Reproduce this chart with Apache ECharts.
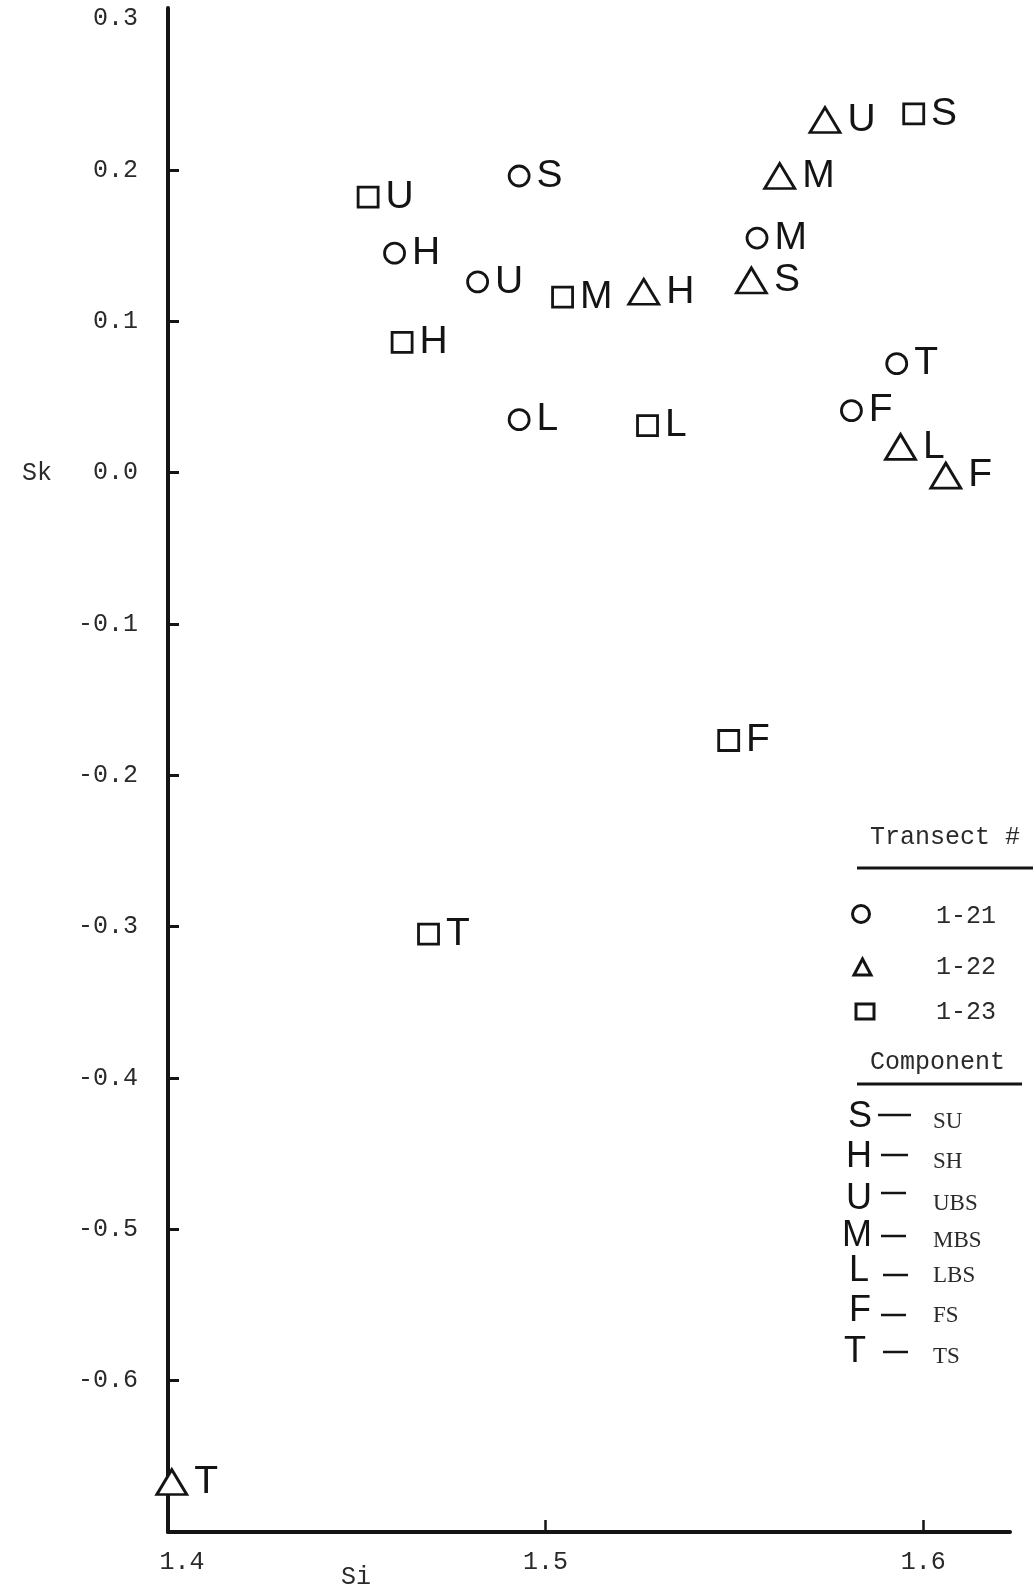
<!DOCTYPE html>
<html>
<head>
<meta charset="utf-8">
<script src="https://cdn.jsdelivr.net/npm/echarts@6/dist/echarts.min.js"></script>
<style>
  html, body { margin: 0; padding: 0; background: #fff; }
  #chart { width: 1036px; height: 1591px; }
</style>
</head>
<body>
<div id="chart"></div>
<script>
// Beach components and their abbreviations
const componentCodes = ['S', 'H', 'U', 'M', 'L', 'F', 'T'];
const componentNames = ['SU', 'SH', 'UBS', 'MBS', 'LBS', 'FS', 'TS'];
const transectNames = ['1-21', '1-22', '1-23'];

// Sorting (Si) and skewness (Sk), listed in componentCodes order
const si121 = [1.493, 1.460, 1.482, 1.556, 1.493, 1.581, 1.593];
const sk121 = [0.196, 0.145, 0.126, 0.155, 0.035, 0.041, 0.072];

const si122 = [1.5545, 1.526, 1.574, 1.562, 1.594, 1.606, 1.401];
const sk122 = [0.127, 0.1195, 0.233, 0.196, 0.017, -0.002, -0.667];

const si123 = [1.5975, 1.462, 1.453, 1.5045, 1.527, 1.5485, 1.469];
const sk123 = [0.237, 0.086, 0.182, 0.116, 0.031, -0.177, -0.305];

// Axis ticks and labels
const xTickLabels = [1.4, 1.5, 1.6];
const xTickMarks = [1.5, 1.6];
const yTickLabels = [-0.6, -0.5, -0.4, -0.3, -0.2, -0.1, 0.0, 0.1, 0.2, 0.3];
const yTickMarks = [-0.6, -0.5, -0.4, -0.3, -0.2, -0.1, 0.0, 0.1, 0.2];

const INK = '#141414';
const TYPE_FONT = 'Liberation Mono';
const LETTER_FONT = 'Liberation Sans';

function points(si, sk) {
  return componentCodes.map((c, i) => [si[i], sk[i], c]);
}

function scatter(name, si, sk, symbol, size) {
  return {
    name: name,
    type: 'scatter',
    symbol: symbol,
    symbolSize: size,
    data: points(si, sk),
    itemStyle: { color: '#fff', borderColor: INK, borderWidth: 2.8, opacity: 1 },
    label: {
      show: true,
      position: 'right',
      distance: 6,
      formatter: p => p.data[2],
      color: INK,
      fontFamily: LETTER_FONT,
      fontSize: 39
    },
    emphasis: { disabled: true },
    z: 3
  };
}

const chart = echarts.init(document.getElementById('chart'), null, { renderer: 'canvas' });

const typeLabel = { fontFamily: TYPE_FONT, fontSize: 25, color: '#2a2a2a' };

chart.setOption({
  animation: false,
  backgroundColor: '#ffffff',
  grid: { left: 168, right: 26, top: 8, bottom: 59, outerBoundsMode: 'none' },
  xAxis: {
    type: 'value',
    min: 1.4,
    max: 1.623,
    axisLine: { show: true, onZero: false, lineStyle: { color: INK, width: 4 } },
    axisTick: { show: true, inside: true, length: 12, customValues: xTickMarks,
                lineStyle: { color: INK, width: 2.5 } },
    axisLabel: {
      customValues: xTickLabels,
      margin: 18,
      formatter: v => Math.abs(v - 1.4) < 1e-9 ? '{first|1.4}' : v.toFixed(1),
      rich: { first: Object.assign({ padding: [0, 0, 0, 28] }, typeLabel) },
      ...typeLabel
    },
    splitLine: { show: false }
  },
  yAxis: {
    type: 'value',
    min: -0.7,
    max: 0.307,
    axisLine: { show: true, onZero: false, lineStyle: { color: INK, width: 4 } },
    axisTick: { show: true, inside: true, length: 11, customValues: yTickMarks,
                lineStyle: { color: INK, width: 3 } },
    axisLabel: {
      customValues: yTickLabels,
      margin: 30,
      formatter: v => v.toFixed(1),
      ...typeLabel
    },
    splitLine: { show: false }
  },
  series: [
    scatter(transectNames[0], si121, sk121, 'circle', 20),
    scatter(transectNames[1], si122, sk122, 'triangle', [30, 25]),
    scatter(transectNames[2], si123, sk123, 'rect', 20)
  ]
});

// Axis titles and the key on the right
const skY = chart.convertToPixel({ yAxisIndex: 0 }, 0);
const graphics = [];

function txt(x, y, text, font, fill) {
  graphics.push({
    type: 'text', x: x, y: y, silent: true,
    style: { text: text, font: font, fill: fill || INK, align: 'left', verticalAlign: 'middle' }
  });
}
function line(x1, y1, x2, y2, w) {
  graphics.push({ type: 'line', silent: true, shape: { x1, y1, x2, y2 },
                  style: { stroke: INK, lineWidth: w } });
}

const keyTypeFont = '25px "' + TYPE_FONT + '"';
txt(22, skY + 1, 'Sk', keyTypeFont, '#2a2a2a');
txt(341, 1577, 'Si', keyTypeFont, '#2a2a2a');

txt(870, 837, 'Transect #', keyTypeFont, '#2a2a2a');
line(857, 868, 1033, 868, 3);

// transect symbols
graphics.push({ type: 'circle', silent: true, shape: { cx: 861, cy: 914, r: 8.5 },
                style: { fill: '#fff', stroke: INK, lineWidth: 3 } });
graphics.push({ type: 'polygon', silent: true,
                shape: { points: [[854, 975], [871, 975], [862.5, 959]] },
                style: { fill: '#fff', stroke: INK, lineWidth: 3 } });
graphics.push({ type: 'rect', silent: true, shape: { x: 856, y: 1004, width: 18, height: 15 },
                style: { fill: '#fff', stroke: INK, lineWidth: 3 } });
const keyRowY = [916, 967, 1012];
transectNames.forEach((t, i) => txt(936, keyRowY[i], t, keyTypeFont, '#2a2a2a'));

txt(870, 1062, 'Component', keyTypeFont, '#2a2a2a');
line(857, 1084, 1022, 1084, 3);

const compLetterY = [1117, 1157, 1199, 1236, 1271, 1311, 1352];
const compDashY = [1115, 1155, 1193, 1236, 1275, 1315, 1352];
const compDashX = [[878, 911], [881, 908], [881, 906], [881, 906], [883, 908], [881, 906], [883, 908]];
const compLetterX = [848, 846, 846, 842, 849, 849, 844];
componentCodes.forEach((c, i) => {
  txt(compLetterX[i], compLetterY[i], c, '36px "' + LETTER_FONT + '"');
  line(compDashX[i][0], compDashY[i], compDashX[i][1], compDashY[i], 2.5);
  txt(933, compLetterY[i] + 5, componentNames[i], '23px "Liberation Serif"', '#2a2a2a');
});

chart.setOption({ graphic: graphics });
</script>
</body>
</html>
